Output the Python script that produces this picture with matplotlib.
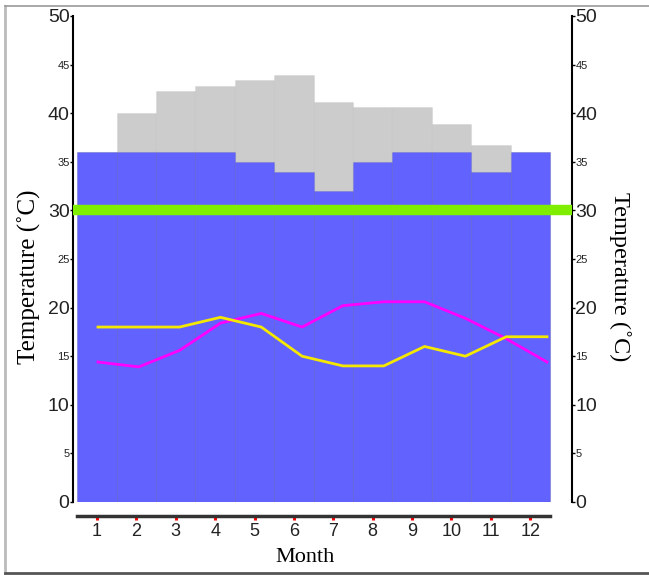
import matplotlib.pyplot as plt
from matplotlib.lines import Line2D

months = list(range(1, 13))
gray_top = [36, 40, 42.3, 42.8, 43.4, 43.9, 41.2, 40.6, 40.6, 38.9, 36.7, 36]
blue_top = [36, 36, 36, 36, 35, 34, 32, 35, 36, 36, 34, 36]
magenta = [14.4, 13.9, 15.6, 18.4, 19.4, 18.0, 20.2, 20.6, 20.6, 18.9, 16.8, 14.4]
yellow = [18, 18, 18, 19, 18, 15, 14, 14, 16, 15, 17, 17]
major_ticks = [0, 10, 20, 30, 40, 50]
minor_ticks = [5, 15, 25, 35, 45]

fig = plt.figure(figsize=(6.49, 5.75), dpi=100)
W, H = 649, 575
ax = fig.add_axes([73 / W, 1 - 502 / H, (572 - 73) / W, (502 - 16) / H])

ax.bar(months, gray_top, width=1.0, color='#cccccc', edgecolor=(0, 0, 0, 0.04), linewidth=0.8, zorder=1)
ax.bar(months, blue_top, width=1.0, color='#6262ff', edgecolor=(0, 0, 0.4, 0.09), linewidth=0.8, zorder=2)
ax.axhline(30, color='#80ee00', linewidth=7.5, zorder=3)

ax.set_xlim(0.39, 13.06)
ax.set_ylim(0, 50)

ax.spines['top'].set_visible(False)
ax.spines['left'].set_linewidth(1.5)
ax.spines['right'].set_linewidth(1.5)
ax.spines['bottom'].set_position(('outward', 10))
ax.spines['bottom'].set_bounds(0.5, 12.5)
ax.spines['bottom'].set_linewidth(2.5)
ax.spines['bottom'].set_color('#333333')

ax.set_xticks(months)
ax.set_xticklabels([str(m) for m in months], fontsize=13, family='Liberation Sans', color='#222222')
ax.tick_params(axis='x', length=3, width=2.2, color='red', direction='out', pad=2)

ax.set_yticks(major_ticks)
ax.set_yticklabels([str(t) for t in major_ticks], fontsize=14, family='Liberation Sans', color='#222222')
ax.set_yticks(minor_ticks, minor=True)
ax.set_yticklabels([str(t) for t in minor_ticks], minor=True, fontsize=8, family='Liberation Sans', color='#222222')
ax.tick_params(axis='y', which='both', length=2, width=1, pad=0.5, left=True, right=True,
               labelleft=True, labelright=True)

ax.set_xlabel('Month', fontsize=16, family='Liberation Serif')
ax.xaxis.set_label_coords(0.465, -0.095)
ax.text(-0.088, 0.463, 'Temperature (˚C)', transform=ax.transAxes, rotation=90,
        fontsize=18, family='Liberation Serif', ha='center', va='center')
ax.text(1.096, 0.463, 'Temperature (˚C)', transform=ax.transAxes, rotation=-90,
        fontsize=17.5, family='Liberation Serif', ha='center', va='center')

lx = ax.twiny()
lx.set_xlim(0.388, 12.612)
lx.plot(months, magenta, color='#ff00ff', linewidth=2, zorder=4)
lx.plot(months, yellow, color='#f5e800', linewidth=2, zorder=4)
lx.set_ylim(0, 50)
lx.axis('off')

# outer frame lines
fig.add_artist(Line2D([5 / W, 5 / W], [1 - 6 / H, 1 - 573 / H], color='#bbbbbb', linewidth=2))
fig.add_artist(Line2D([5 / W, 1], [1 - 6 / H, 1 - 6 / H], color='#999999', linewidth=1.2))
fig.add_artist(Line2D([5 / W, 1], [1 - 573 / H, 1 - 573 / H], color='#555555', linewidth=2))

fig.savefig('out.png', dpi=100)
